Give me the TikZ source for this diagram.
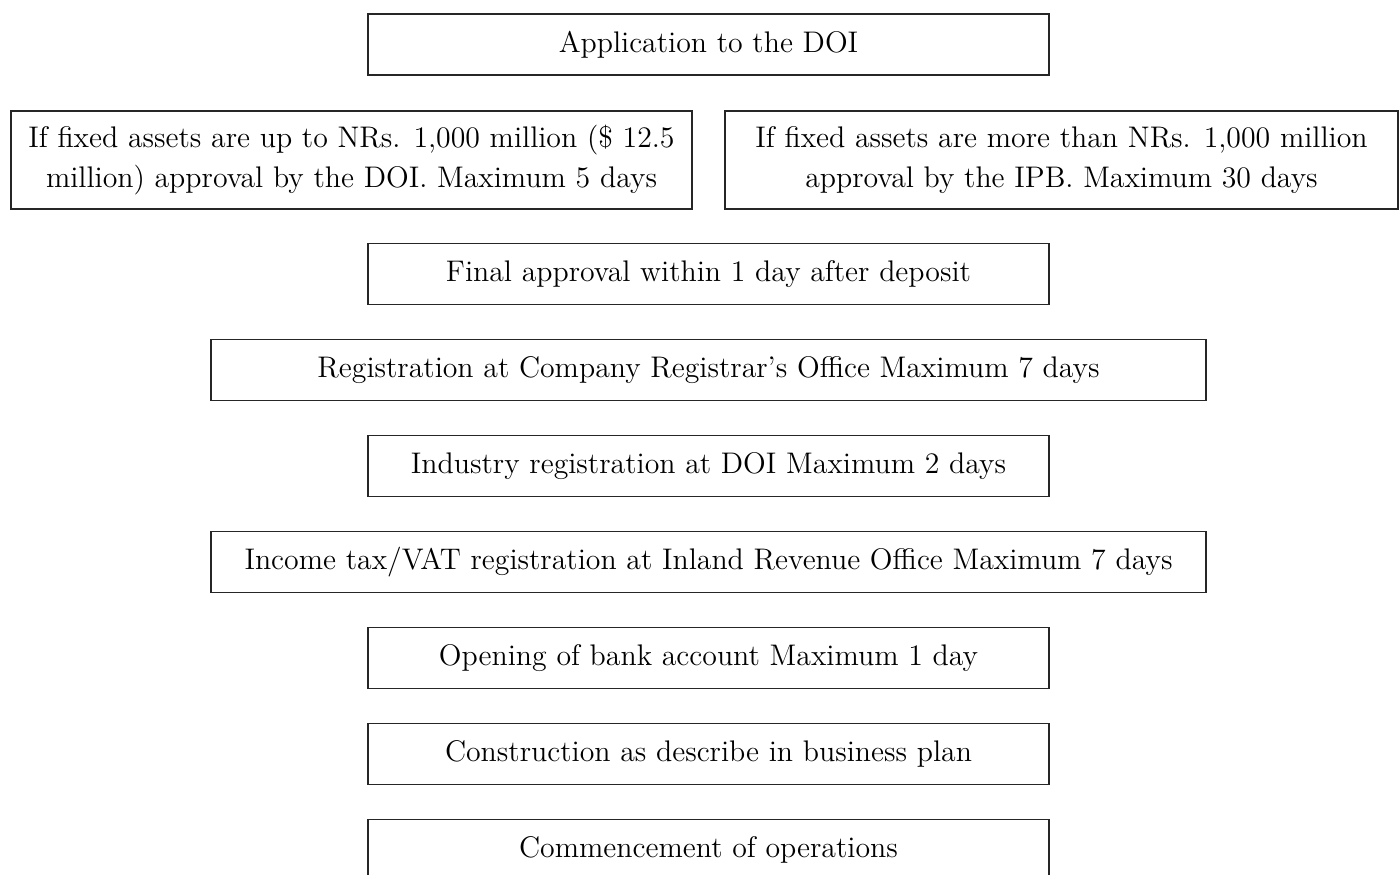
\documentclass[tikz,border=0pt]{standalone}
\usepackage{tikz}
\usetikzlibrary{positioning}

\begin{document}
\begin{tikzpicture}[
  x=0.5pt, y=-0.5pt,
  node distance=16.8pt,
  stage/.style={rectangle, draw=black!85, line width=0.7pt, align=center, inner sep=0pt, minimum width=340.5pt, minimum height=30.5pt, font=\fontsize{14.9}{20}\selectfont},
  widestage/.style={stage, minimum width=497.5pt},
  branch/.style={stage, minimum height=49pt}
]
\clip (0,0) rectangle (1399,874);

% Top of the chain
\node[stage] (apply) at (708.5,44.5) {Application to the DOI};

% Two approval routes side by side
\node[branch] (doi) at (351.5,160) {If fixed assets are up to NRs. 1,000 million (\$ 12.5\\million) approval by the DOI. Maximum 5 days};
\node[branch, minimum width=336.5pt] (ipb) at (1061.5,160) {If fixed assets are more than NRs. 1,000 million\\approval by the IPB. Maximum 30 days};

% Main chain below
\node[stage] (final) at (708.5,274) {Final approval within 1 day after deposit};
\node[widestage, below=of final] (registrar) {Registration at Company Registrar's Office Maximum 7 days};
\node[stage, below=of registrar] (industry) {Industry registration at DOI Maximum 2 days};
\node[widestage, below=of industry] (tax) {Income tax/VAT registration at Inland Revenue Office Maximum 7 days};
\node[stage, below=of tax] (bank) {Opening of bank account Maximum 1 day};
\node[stage, below=of bank] (build) {Construction as describe in business plan};
\node[stage, below=of build] (start) {Commencement of operations};

\end{tikzpicture}
\end{document}
